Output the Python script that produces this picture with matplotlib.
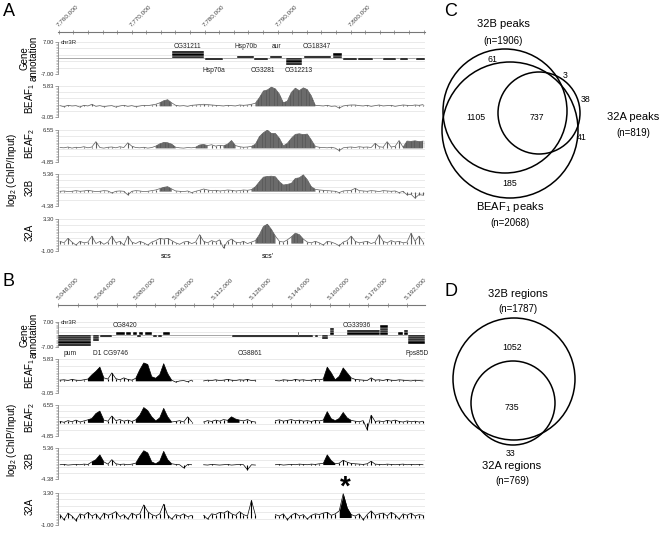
import numpy as np
import matplotlib
matplotlib.use("Agg")
import matplotlib.pyplot as plt
from matplotlib.patches import Rectangle, Circle
from matplotlib.ticker import FixedLocator

plt.rcParams['font.family'] = ['Liberation Sans', 'DejaVu Sans']
plt.rcParams['mathtext.default'] = 'regular'

nan = np.nan

# ---------------- data ----------------
# panel A window (chr3R)
a_start, a_end = 7759900, 7810200
a_beaf1 = [0.2, -0.1, 0.3, 0.1, 0.2, -0.2, 0.3, 0.1, 0.6, 0.0, 0.2, -0.1, 0.1, 0.2, -0.2, 0.1,
           0.3, 0.0, 0.2, -0.1, 0.1, 0.3, 0.2, 0.4,
           0.6, 1.0, 1.6, 1.9, 1.0, 0.3,
           0.1, 0.2, 0.0, 0.3, 0.4, 0.5, 0.6, 0.5, 0.4, 0.3, 0.2, 0.1, 0.3, 0.2, 0.1, 0.4,
           0.3, 0.4, 0.6, 0.9,
           2.5, 4.4, 4.7, 5.5, 5.0, 3.5, 1.0, 1.5, 4.0, 5.2, 4.5, 5.3, 4.8, 3.0, 0.3,
           0.2, 0.1, 0.3, 0.0, 0.1, -0.5, 0.1, 0.3, 0.4, 0.4, 0.2, 0.1, 0.3, 0.0, 0.2, 0.4,
           0.1, 0.2, 0.3, 0.0, 0.2, 0.4, 0.3, 0.2, 0.4, 0.3, 0.5]
a_beaf2 = [0.3, 0.2, 0.5, 0.1, 0.4, 0.3, 0.6, 0.2, 0.5, 2.4, 0.3, 0.1, 0.4, 0.5, 0.2, 0.6,
           0.3, 2.0, 0.8, 0.3, 0.2, 0.4, 0.1, 0.3,
           0.8, 1.6, 2.1, 2.0, 1.5, 0.4,
           0.2, 0.1, 0.3, 0.2, 0.4, 1.2, 1.4, 1.0, 1.3, 0.8, 1.1, 0.9, 1.5, 2.8, 1.0, 0.6,
           0.4, 0.5, 0.7, 1.5,
           4.2, 5.6, 6.5, 5.3, 5.3, 3.6, 0.9, 1.8, 3.6, 5.0, 5.2, 4.9, 5.1, 3.0, 0.7,
           0.4, 0.3, 0.2, 0.4, 0.1, -0.8, 0.2, 0.4, 0.5, 0.3, 0.6, 0.4, 0.5, 0.3, 1.8, 0.6,
           0.4, 2.4, 0.5, 0.7, 2.8, 0.4, 2.6, 2.5, 2.7, 2.4, 2.6]
a_32b = [0.1, 0.2, 0.0, 0.1, 0.3, 0.1, 0.2, 0.4, 0.2, 0.0, 0.1, 0.3, 0.2, -0.4, 0.1, 0.2,
         0.1, -1.0, 0.1, 0.3, 0.2, 0.0, 0.1, 0.3,
         0.5, 0.9, 1.3, 1.5, 0.8, 0.2,
         0.1, 0.0, 0.2, -0.3, 0.1, 0.4, 0.8, 0.5, 0.3, 0.4, 0.2, 0.3, 0.5, 0.4, 0.2, 0.3,
         0.5, 0.4, 0.6, 1.5,
         3.0, 4.4, 4.6, 4.7, 4.5, 3.0, 2.0, 2.2, 2.5, 4.0, 4.2, 5.1, 3.6, 1.5, 0.7,
         0.5, 0.4, 0.3, 0.2, 0.1, -0.3, 0.2, 0.3, 0.4, 1.0, 0.3, 0.2, 0.1, 0.3, 0.2, 0.0,
         0.3, 0.2, 0.1, 0.2, -0.3, 0.1, -1.0, -0.8, -2.0, -0.9, -1.1]
a_32a = [0.3, 0.1, 0.7, 0.2, -0.2, 0.3, 0.1, 0.2, 1.0, 0.0, 0.3, -0.1, 0.2, 1.0, 0.1, 0.3,
         -0.2, 1.0, 0.2, 0.0, 0.3, 0.1, -0.2, 0.2,
         0.4, 0.7, 0.6, 0.7, 0.4, 0.1,
         -0.1, 0.2, 0.3, 0.0, 0.2, 1.2, 0.3, 0.1, 0.4, 0.2, 0.5, -0.6, 0.3, 0.6, 0.2, 0.1,
         0.3, 0.0, 0.2, 0.4,
         1.2, 2.3, 2.6, 1.9, 1.0, 0.3, 0.2, 0.5, 0.9, 1.4, 1.2, 0.6, 0.2, 0.1, 0.3,
         0.1, -0.2, 0.3, 0.2, 0.0, -0.3, 0.2, 0.4, 1.0, 0.3, 0.1, 0.2, 0.3, 0.0, 0.2, 1.2,
         0.3, 0.1, 0.4, 0.2, 0.3, 0.1, 0.2, 1.4, 0.3, 1.0, 0.2]

# genes: (start, end, strand, isoform rows)
a_genes = [(7775500, 7779900, 1, 3), (7780050, 7782500, -1, 1), (7784400, 7786750, 1, 1),
           (7786750, 7788650, -1, 1), (7788950, 7790600, 1, 1), (7791150, 7793350, -1, 3),
           (7793600, 7797300, 1, 1), (7797550, 7798800, 1, 2), (7798950, 7800850, -1, 1),
           (7801000, 7803050, -1, 1), (7804450, 7806200, -1, 1), (7806750, 7807850, -1, 1),
           (7808950, 7810200, -1, 1)]
a_names = [("CG31211", 7777700, 1), ("Hsp70a", 7781300, -1), ("Hsp70b", 7785600, 1),
           ("aur", 7789800, 1), ("CG3281", 7788000, -1), ("CG12213", 7792900, -1),
           ("CG18347", 7795400, 1)]
a_ticks = [7760000, 7770000, 7780000, 7790000, 7800000]

# panel B window (chr3R)
b_start, b_end = 5047800, 5199400
b_beaf1 = [0.3, 0.4, 0.2, 0.5, 0.3, 0.2, 0.4, 0.6,
           1.7, 2.6, 3.7, 0.9, 0.6, 2.2, 0.7, 0.4, 0.9, 0.5, 0.3, 0.8,
           3.0, 4.8, 4.4, 1.2, 0.8, 1.7, 4.6, 2.0, 0.3, -0.2, 0.1, 0.2, -0.1, 0.3,
           nan, nan,
           0.1, 0.3, 0.2, 0.4, 0.2, 0.3, 0.5, 0.3, 0.2, 0.4, 0.3, 0.5, 0.2, 0.3,
           nan, nan, nan, nan,
           0.2, 0.1, 0.4, 0.3, 0.2, 0.5, 0.3, 0.4, 0.2, 0.3, 0.5, 0.4, 0.6,
           3.7, 2.2, 0.4, 1.3, 3.5, 2.2, 0.9, 0.5,
           0.4, 0.3, 0.2, 0.9, 0.3, 0.4, 0.2, 0.5, 0.3, 0.2, 0.4, 0.3, 0.2, 0.1, 0.3, 0.2, 0.1]
b_beaf2 = [0.5, 0.2, 0.8, 0.4, 1.0, 0.3, 0.7, 1.1,
           1.6, 3.4, 4.3, 1.0, 0.6, 2.5, 0.8, 1.2, 0.6, 1.0, 0.5, 1.1,
           2.8, 5.6, 4.5, 2.2, 0.7, 1.8, 5.3, 2.2, 0.3, 0.5, 0.8, 0.3, 2.2, 0.4,
           nan, nan,
           0.3, 0.8, 0.5, 1.0, 0.6, 1.2, 0.9, 2.2, 1.4, 1.0, 0.7, 1.2, 0.5, 0.3,
           nan, nan, nan, nan,
           0.8, 1.1, 0.6, 0.9, 1.2, 0.7, 1.0, 0.6, 0.8, 0.5, 0.9, 0.7, 1.0,
           4.1, 1.5, 0.8, 1.6, 3.8, 1.8, 0.9, 0.6,
           0.4, 0.8, -2.5, 2.8, 0.5, 0.7, 0.4, 0.9, 0.6, 1.0, 0.5, 0.3, 0.7, 0.4, 0.6, 0.3, 0.5]
b_32b = [0.1, 0.2, 0.0, 0.1, 0.2, 0.1, 0.3, 0.2,
         1.0, 1.7, 3.2, 1.0, 0.3, 1.7, 0.4, 0.2, 0.3, 0.1, 0.3, 0.6,
         2.7, 4.5, 3.8, 1.0, 0.4, 1.2, 4.3, 1.7, 0.4, 0.2, 0.1, -0.9, 0.2, 0.1,
         nan, nan,
         0.1, 0.0, 0.2, 0.1, 0.0, 0.1, 0.2, 0.0, 0.1, 0.2, 0.1, -1.5, 0.1, 0.0,
         nan, nan, nan, nan,
         0.1, 0.2, 0.0, 0.1, 0.2, 0.1, 0.3, 0.2, 0.1, 0.3, 0.2, 0.4, 0.5,
         3.2, 1.4, 0.4, 0.6, 1.5, 0.9, 0.5, 0.4,
         0.3, 0.2, 0.4, 1.2, 0.3, 0.2, 0.1, 0.3, 0.2, 0.1, 0.2, 0.3, 0.1, 0.2, 0.1, 0.2, 0.1]
b_32a = [0.4, -0.3, 0.6, 0.2, -0.4, 0.5, 0.3, 0.7,
         0.2, 0.5, -0.2, 0.6, 0.3, 0.5, 0.8, 0.1, 0.4, -0.2, 0.6, 0.3,
         0.5, 1.7, 0.8, 0.4, 0.2, 0.5, 1.8, 0.3, -0.2, 0.4, 0.2, 0.5, 0.1, 0.3,
         nan, nan,
         0.3, -0.2, 0.5, 0.4, 0.7, 0.6, 0.9, 0.5, 0.3, 0.8, 0.4, 0.2, 2.3, 0.3,
         nan, nan, nan, nan,
         0.4, 0.2, 0.5, -0.3, 0.3, 0.6, 0.2, 0.4, -0.2, 0.3, 0.5, 0.4, 0.6,
         0.7, 0.3, 0.5, 0.9, 3.2, 1.3, 0.4, 0.2,
         0.5, -0.3, 0.4, 0.9, 0.3, 0.5, 0.6, 0.2, 0.7, 0.4, -0.2, 0.5, 0.3, 0.6, 0.2, 0.4, 0.3]

b_genes = [(5047800, 5061430, -1, 5), (5062250, 5064730, -1, 3), (5065150, 5070100, -1, 1),
           (5071750, 5075470, 1, 1), (5075880, 5077950, 1, 1), (5078780, 5080430, 1, 1),
           (5081250, 5082900, 1, 1), (5083730, 5086620, 1, 1), (5091170, 5094060, 1, 1),
           (5080430, 5082080, -1, 1), (5087030, 5088690, -1, 1), (5089100, 5090750, -1, 1),
           (5119660, 5153110, -1, 1), (5146900, 5147300, 1, 1), (5153940, 5155180, -1, 1),
           (5156830, 5159310, -1, 2), (5160140, 5161790, 1, 3), (5167160, 5180790, 1, 2),
           (5180790, 5184090, 1, 4), (5188220, 5190290, 1, 1), (5190700, 5192350, 1, 2),
           (5192350, 5199400, -1, 4)]
b_names = [("CG8420", 5075470, 1), ("CG33936", 5171300, 1), ("pum", 5052750, -1),
           ("D1 CG9746", 5069300, -1), ("CG8861", 5127100, -1), ("Fps85D", 5196300, -1)]
b_ticks = list(range(5048000, 5192001, 16000))

track_names = ["BEAF$_1$", "BEAF$_2$", "32B", "32A"]
track_limits = [(-3.05, 5.83), (-4.85, 6.55), (-4.38, 5.36), (-1.00, 3.30)]

# venn counts
c_counts = {"32B only": 61, "32B+32A": 3, "32A only": 38, "32B+BEAF": 1105,
            "all": 737, "32A+BEAF": 41, "BEAF only": 185}
c_totals = {"32B": 1906, "32A": 819, "BEAF": 2068}
d_counts = {"32B only": 1052, "both": 735, "32A only": 33}
d_totals = {"32B": 1787, "32A": 769}

# ---------------- figure ----------------
W, H = 664, 537
fig = plt.figure(figsize=(W / 100, H / 100), dpi=100)


def add_ax(x0, y0, x1, y1):
    return fig.add_axes([x0 / W, 1 - y1 / H, (x1 - x0) / W, (y1 - y0) / H])


def style_track(ax, lo, hi, xs, xe):
    ax.set_xlim(xs, xe)
    ax.set_ylim(lo, hi)
    for s in ['top', 'right', 'bottom']:
        ax.spines[s].set_visible(False)
    ax.spines['left'].set_color('#888888')
    ax.spines['left'].set_linewidth(0.6)
    ax.set_xticks([])
    ax.set_yticks([lo, hi])
    ax.set_yticklabels([f"{lo:.2f}", f"{hi:.2f}"], fontsize=4.2, color='#333333')
    ax.yaxis.set_minor_locator(FixedLocator(np.linspace(lo, hi, 21)))
    ax.tick_params(axis='y', which='major', length=2, width=0.5, pad=1, color='#777777')
    ax.tick_params(axis='y', which='minor', length=1.2, width=0.4, color='#999999')
    for g in np.linspace(lo, hi, 6):
        ax.axhline(g, color='#e2e2e2', lw=0.5, zorder=0)
    ax.patch.set_alpha(0)


def draw_signal(ax, vals, xs, xe, color, stripe):
    v = np.array(vals, float)
    n = len(v)
    edges = np.linspace(xs, xe, n + 1)
    cen = (edges[:-1] + edges[1:]) / 2
    vz = np.nan_to_num(v)
    # enriched stretches (bin and a neighbour above 1.2) drawn as filled peaks
    hi = vz >= 1.2
    nb = np.zeros(n, bool)
    nb[1:] |= hi[:-1]
    nb[:-1] |= hi[1:]
    peak = hi & nb
    mask = peak.copy()
    mask[1:] |= peak[:-1]
    mask[:-1] |= peak[1:]
    ax.fill_between(cen, 0, vz, where=mask, color=color, lw=0, zorder=2)
    # jagged probe line and single-probe spikes elsewhere
    ax.plot(cen, v, color=color, lw=0.5, zorder=2)
    ax.vlines(cen[~mask], 0, vz[~mask], color=color, lw=0.8, zorder=2)
    if stripe:
        sub = np.linspace(xs, xe, n * 3 + 1)
        sv = np.interp(sub, cen, vz)
        sm = np.interp(sub, cen, mask.astype(float)) > 0.99
        ax.vlines(sub[sm][::2], 0, sv[sm][::2], color=stripe, lw=0.35, zorder=3)


def draw_genes(ax, genes, names, row_h, xs, xe, below_y):
    style_track(ax, -7, 7, xs, xe)
    ax.set_yticklabels(["-7.00", "7.00"], fontsize=4.2, color='#333333')
    ax.axhline(0, color='#999999', lw=0.6, zorder=1)
    for s, e, strand, rows in genes:
        for r in range(rows):
            y0 = r * row_h if strand > 0 else -(r + 1) * row_h
            ax.add_patch(Rectangle((s, y0), e - s, row_h, facecolor='black',
                                   edgecolor='white', lw=0.3, zorder=3))
    for name, pos, side in names:
        y = 5.2 if side > 0 else below_y
        ax.text(pos, y, name, fontsize=4.8, ha='center', va='center', color='#222222',
                clip_on=False)
    ax.text(xs + (xe - xs) * 0.008, 7, "chr3R", fontsize=4.3, ha='left', va='center',
            color='#222222')


def draw_ruler(y, xs, xe, ticks, minor):
    ax = add_ax(58, y, 425, y + 1)
    ax.set_xlim(xs, xe)
    for s in ['left', 'right', 'bottom']:
        ax.spines[s].set_visible(False)
    ax.spines['top'].set_color('#777777')
    ax.spines['top'].set_linewidth(0.8)
    ax.set_yticks([])
    ax.xaxis.tick_top()
    ax.set_xticks(ticks)
    ax.set_xticks(np.arange(ticks[0], xe, minor), minor=True)
    ax.set_xticklabels([f"{t:,}" for t in ticks], rotation=45, ha='left', va='bottom',
                       rotation_mode='anchor', fontsize=4.6, color='#444444')
    ax.tick_params(axis='x', which='both', direction='inout', length=2.5, width=0.5,
                   color='#777777', pad=2.5)
    ax.patch.set_alpha(0)


# panel A
a_rows = [(86, 117), (130, 162), (174, 206), (219, 251)]
draw_ruler(32, a_start, a_end, a_ticks, 2000)
draw_genes(add_ax(58, 42, 425, 74), a_genes, a_names, 1.0, a_start, a_end, -5.6)
for (y0, y1), vals, (lo, hi) in zip(a_rows, [a_beaf1, a_beaf2, a_32b, a_32a], track_limits):
    ax = add_ax(58, y0, 425, y1)
    style_track(ax, lo, hi, a_start, a_end)
    draw_signal(ax, vals, a_start, a_end, '#5c5c5c', '#9a9a9a')

# panel B
b_rows = [(359, 393), (405, 436), (448, 479), (493, 525)]
draw_ruler(305, b_start, b_end, b_ticks, 8000)
draw_genes(add_ax(58, 322, 425, 347), b_genes, b_names, 1.3, b_start, b_end, -10.5)
for (y0, y1), vals, (lo, hi) in zip(b_rows, [b_beaf1, b_beaf2, b_32b, b_32a], track_limits):
    ax = add_ax(58, y0, 425, y1)
    style_track(ax, lo, hi, b_start, b_end)
    draw_signal(ax, vals, b_start, b_end, 'black', None)

# overlay for labels and venn diagrams (pixel coordinates)
ov = fig.add_axes([0, 0, 1, 1])
ov.set_xlim(0, W)
ov.set_ylim(H, 0)
ov.axis('off')
ov.set_zorder(10)
ov.patch.set_alpha(0)

for letter, x, y in [("A", 3, 12), ("B", 3, 282), ("C", 444, 12), ("D", 444, 292)]:
    ov.text(x, y, letter, fontsize=13, ha='left', va='center')

for (gy, rows, logy) in [(58, a_rows, 170), (335, b_rows, 440)]:
    ov.text(29, gy, "Gene\nannotation", rotation=90, fontsize=7, ha='center', va='center',
            linespacing=1.0)
    for (y0, y1), name in zip(rows, track_names):
        ov.text(30, (y0 + y1) / 2 - 3, name, rotation=90, fontsize=7, ha='center', va='center')
    ov.text(12, logy, "log$_2$ (ChIP/Input)", rotation=90, fontsize=7, ha='center', va='center')

ov.text(166, 257, "scs", fontsize=5, ha='center', va='center')
ov.text(268, 257, "scs'", fontsize=5, ha='center', va='center')
ov.text(345, 488, "*", fontsize=20, ha='center', va='center', fontweight='bold')

# venn C
for cx, cy, r in [(505, 111, 62), (510, 130, 68), (539, 113, 41)]:
    ov.add_patch(Circle((cx, cy), r, fill=False, lw=1.1, color='black'))
num_pos = {"32B only": (492, 60), "32B+32A": (565, 76), "32A only": (586, 99),
           "32B+BEAF": (476, 118), "all": (537, 118), "32A+BEAF": (582, 138),
           "BEAF only": (510, 183)}
for k, (x, y) in num_pos.items():
    ov.text(x, y, str(c_counts[k]), fontsize=6.3, ha='center', va='center')
ov.text(503, 24, "32B peaks", fontsize=8, ha='center', va='center')
ov.text(503, 41, f"(n={c_totals['32B']})", fontsize=7, ha='center', va='center')
ov.text(633, 117, "32A peaks", fontsize=8, ha='center', va='center')
ov.text(633, 133, f"(n={c_totals['32A']})", fontsize=7, ha='center', va='center')
ov.text(510, 207, "BEAF$_1$ peaks", fontsize=8, ha='center', va='center')
ov.text(510, 223, f"(n={c_totals['BEAF']})", fontsize=7, ha='center', va='center')

# venn D
for cx, cy, r in [(514, 379, 61), (513, 403, 42)]:
    ov.add_patch(Circle((cx, cy), r, fill=False, lw=1.1, color='black'))
ov.text(512, 348, str(d_counts["32B only"]), fontsize=6.3, ha='center', va='center')
ov.text(512, 408, str(d_counts["both"]), fontsize=6.3, ha='center', va='center')
ov.text(511, 453, str(d_counts["32A only"]), fontsize=6.3, ha='center', va='center')
ov.text(518, 294, "32B regions", fontsize=8, ha='center', va='center')
ov.text(518, 309, f"(n={d_totals['32B']})", fontsize=7, ha='center', va='center')
ov.text(512, 466, "32A regions", fontsize=8, ha='center', va='center')
ov.text(512, 481, f"(n={d_totals['32A']})", fontsize=7, ha='center', va='center')

fig.savefig("out.png", dpi=100)
